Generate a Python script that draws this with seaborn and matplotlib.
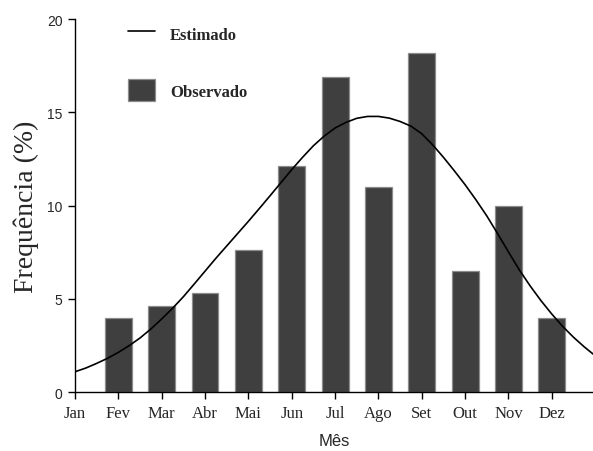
import numpy as np
import pandas as pd
import matplotlib
matplotlib.use("Agg")
import matplotlib.pyplot as plt
from matplotlib.lines import Line2D
from matplotlib.patches import Patch
import seaborn as sns

# Months shown on the x axis
meses = ["Jan", "Fev", "Mar", "Abr", "Mai", "Jun", "Jul", "Ago", "Set", "Out", "Nov", "Dez"]

# Observed frequency (%) per month (no records in January)
meses_obs = ["Fev", "Mar", "Abr", "Mai", "Jun", "Jul", "Ago", "Set", "Out", "Nov", "Dez"]
freq_obs = [4.0, 4.6, 5.3, 7.6, 12.1, 16.9, 11.0, 18.2, 6.5, 10.0, 4.0]

# Estimated frequency curve, sampled every quarter month (0 = Jan)
curva_mes = [0.00, 0.25, 0.50, 0.75, 1.00, 1.25, 1.50, 1.75,
             2.00, 2.25, 2.50, 2.75, 3.00, 3.25, 3.50, 3.75,
             4.00, 4.25, 4.50, 4.75, 5.00, 5.25, 5.50, 5.75,
             6.00, 6.25, 6.50, 6.75, 7.00, 7.25, 7.50, 7.75,
             8.00, 8.25, 8.50, 8.75, 9.00, 9.25, 9.50, 9.75,
             10.00, 10.25, 10.50, 10.75, 11.00, 11.25, 11.50, 11.75, 12.00]
curva_est = [1.10, 1.30, 1.55, 1.82, 2.14, 2.50, 2.91, 3.39,
             3.93, 4.50, 5.12, 5.80, 6.49, 7.18, 7.84, 8.50,
             9.16, 9.84, 10.53, 11.23, 11.93, 12.59, 13.21, 13.73,
             14.16, 14.46, 14.68, 14.78, 14.78, 14.69, 14.51, 14.26,
             13.85, 13.26, 12.59, 11.87, 11.12, 10.31, 9.45, 8.50,
             7.52, 6.56, 5.70, 4.91, 4.19, 3.53, 2.95, 2.43, 1.96]

sns.set_style("ticks")
plt.rcParams["font.family"] = ["Liberation Serif", "DejaVu Serif"]

bar_face = "#3f3f3f"
bar_edge = "#8c8c8c"

df_obs = pd.DataFrame({
    "mes": [meses.index(m) for m in meses_obs],
    "freq": freq_obs,
})
df_est = pd.DataFrame({"mes": curva_mes, "freq": curva_est})

fig = plt.figure(figsize=(5.93, 4.52), dpi=100)
ax = fig.add_axes([75 / 593, 58.7 / 452, 518 / 593, 373.3 / 452])

sns.barplot(data=df_obs, x="mes", y="freq", native_scale=True, width=0.62,
            color=bar_face, saturation=1, edgecolor=bar_edge, linewidth=0.9, ax=ax)
sns.lineplot(data=df_est, x="mes", y="freq", color="black", linewidth=1.2, ax=ax)

ax.set_xlim(0, 11.95)
ax.set_ylim(0, 20)
ax.set_xticks(np.arange(len(meses)))
ax.set_xticklabels(meses, fontsize=12, fontfamily="Liberation Serif")
ax.set_yticks([0, 5, 10, 15, 20])
ax.set_yticklabels(["0", "5", "10", "15", "20"], fontsize=10, fontfamily="Liberation Sans")
ax.tick_params(axis="both", direction="out", length=5, width=1, color="black")
ax.tick_params(axis="x", pad=4)
ax.tick_params(axis="y", pad=4)

for s in ["top", "right"]:
    ax.spines[s].set_visible(False)
for s in ["left", "bottom"]:
    ax.spines[s].set_linewidth(1.0)
    ax.spines[s].set_color("black")

ax.set_ylabel("Frequência (%)", fontsize=20, fontfamily="Liberation Serif")
ax.yaxis.set_label_coords(-0.07, 0.5)
ax.set_xlabel("Mês", fontsize=12, fontfamily="Liberation Sans")
ax.xaxis.set_label_coords(0.5, -0.11)

handles = [
    Line2D([0], [0], color="black", linewidth=1.2),
    Patch(facecolor=bar_face, edgecolor=bar_edge, linewidth=0.9),
]
leg = ax.legend(handles, ["Estimado", "Observado"], loc="upper left",
                bbox_to_anchor=(128 / 593, 1 - 24 / 452), bbox_transform=fig.transFigure,
                frameon=False, borderpad=0, borderaxespad=0,
                handlelength=1.62, handleheight=1.6, handletextpad=0.9, labelspacing=2.1,
                prop={"family": "Liberation Serif", "weight": "bold", "size": 12})

fig.savefig("out.png", dpi=100)
